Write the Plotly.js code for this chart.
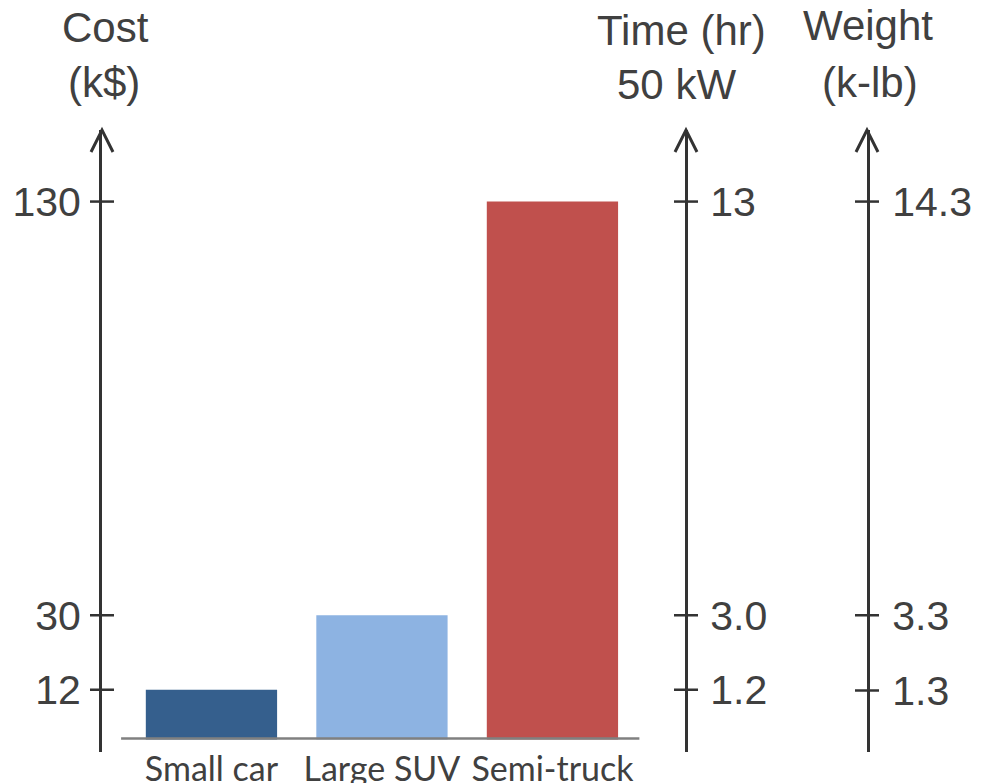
<!DOCTYPE html>
<html>
<head>
<meta charset="utf-8">
<script src="https://cdn.plot.ly/plotly-3.0.1.min.js"></script>
<style>html,body{margin:0;padding:0;background:#fff;}#chart{width:986px;height:783px;}</style>
</head>
<body>
<div id="chart"></div>
<script>
// ---- data ----
const categories = ["Small car", "Large SUV", "Semi-truck"];
const costK = [12, 30, 130];            // k$
const timeHr = [1.2, 3.0, 13];          // hours at 50 kW
const weightKlb = [1.3, 3.3, 14.3];     // k-lb
const costLabels = ["12", "30", "130"];
const timeLabels = ["1.2", "3.0", "13"];
const weightLabels = ["1.3", "3.3", "14.3"];
const barColors = ["#355F8D", "#8DB3E2", "#C0504D"];

// ---- layout geometry ----
const W = 986, H = 783;
const mL = 102, mR = 119, mT = 130, mB = 31;
const plotW = W - mL - mR, plotH = H - mT - mB;
const px2paperX = px => (px - mL) / plotW;
const px2paperY = py => (H - mB - py) / plotH;

const yRange = [-3.05, 147.3];
const timeScale = 0.1, weightScale = 0.11;
const axisColor = "#333333", textColor = "#404040";
const numFont = {family: "Liberation Sans, Arial, sans-serif", size: 41, color: textColor};
const titleFont = {family: "Liberation Sans, Arial, sans-serif", size: 42, color: textColor};

const timePos = px2paperX(686);
const axes = [
  {pos: 0, yref: "y", vals: costK},
  {pos: timePos, yref: "y2", vals: timeHr},
  {pos: 1, yref: "y3", vals: weightKlb}
];

const shapes = [];
// baseline under bars
shapes.push({type: "line", xref: "x", yref: "y", x0: -0.53, x1: 2.51, y0: 0.2, y1: 0.2,
  line: {color: "#808080", width: 2.5}, layer: "above"});
axes.forEach(a => {
  a.vals.forEach(v => {
    shapes.push({type: "line", xref: "paper", xsizemode: "pixel", xanchor: a.pos, x0: -12, x1: 12,
      yref: a.yref, y0: v, y1: v, line: {color: axisColor, width: 2.5}});
  });
  shapes.push({type: "path", xref: "paper", xsizemode: "pixel", xanchor: a.pos,
    yref: "paper", ysizemode: "pixel", yanchor: 1,
    path: "M-11,-22 L0,0 L11,-22", line: {color: axisColor, width: 3}});
});

const ann = (text, px, py) => ({text: text, xref: "paper", yref: "paper", x: px2paperX(px), y: px2paperY(py),
  xanchor: "center", yanchor: "middle", showarrow: false, font: titleFont});
const annotations = [
  ann("Cost", 105, 27), ann("(k$)", 104, 83),
  ann("Time (hr)", 681, 31), ann("50 kW", 676, 84),
  ann("Weight", 868, 26), ann("(k-lb)", 870, 83)
];

const traces = [
  {type: "bar", x: categories, y: costK, width: 0.77, marker: {color: barColors, line: {width: 0}},
   hoverinfo: "skip", xaxis: "x", yaxis: "y"},
  {type: "scatter", mode: "markers", x: categories, y: timeHr, marker: {opacity: 0}, hoverinfo: "skip", yaxis: "y2"},
  {type: "scatter", mode: "markers", x: categories, y: weightKlb, marker: {opacity: 0}, hoverinfo: "skip", yaxis: "y3"}
];

const baseY = {showgrid: false, zeroline: false, showline: true, linewidth: 3, linecolor: axisColor,
  ticks: "", tickfont: numFont, fixedrange: true};

const layout = {
  width: W, height: H, showlegend: false,
  paper_bgcolor: "#ffffff", plot_bgcolor: "rgba(0,0,0,0)",
  margin: {l: mL, r: mR, t: mT, b: mB, pad: 0},
  xaxis: {type: "category", range: [-0.642, 3.845], showgrid: false, zeroline: false, showline: false,
    ticks: "", ticklabelstandoff: -6,
    tickfont: {family: "Lato, Carlito, sans-serif", size: 34, color: textColor}, fixedrange: true},
  yaxis: Object.assign({}, baseY, {anchor: "x", side: "left", range: yRange, tickvals: costK, ticktext: costLabels,
    ticklabelstandoff: 10}),
  yaxis2: Object.assign({}, baseY, {overlaying: "y", anchor: "free", position: timePos, side: "right",
    range: yRange.map(v => v * timeScale), tickvals: timeHr, ticktext: timeLabels, ticklabelstandoff: 14}),
  yaxis3: Object.assign({}, baseY, {overlaying: "y", anchor: "x", side: "right",
    range: yRange.map(v => v * weightScale), tickvals: weightKlb, ticktext: weightLabels, ticklabelstandoff: 14}),
  shapes: shapes,
  annotations: annotations
};

Plotly.newPlot("chart", traces, layout, {staticPlot: true, displayModeBar: false});
</script>
</body>
</html>
